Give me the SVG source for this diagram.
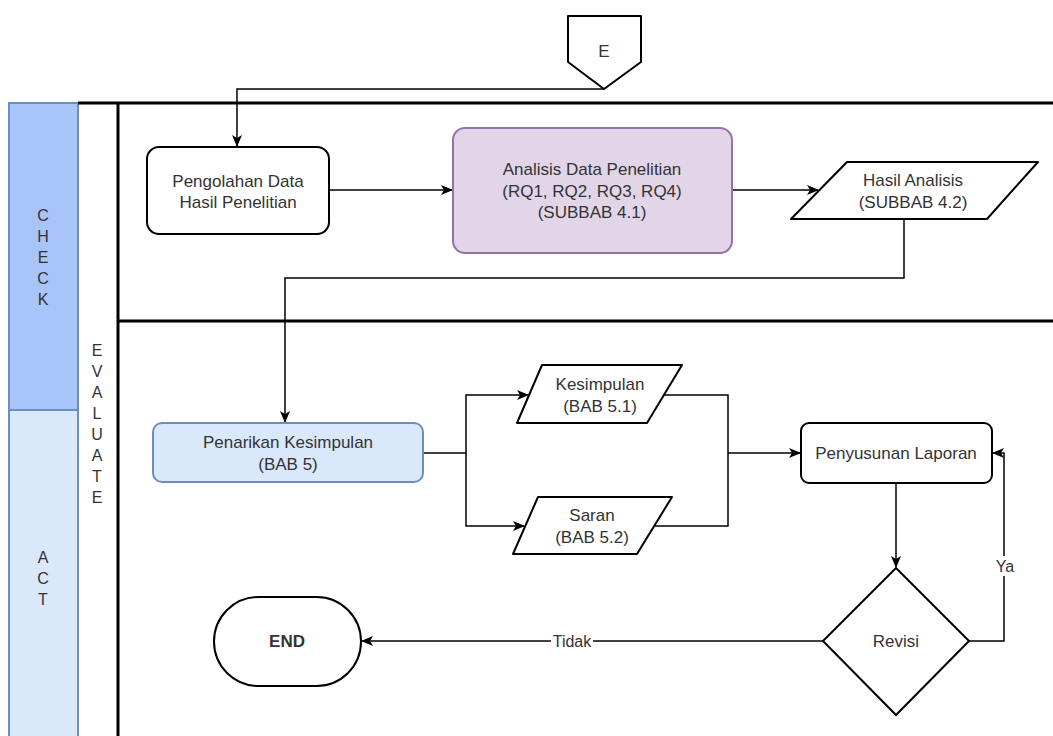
<svg xmlns="http://www.w3.org/2000/svg" width="1053" height="736" viewBox="0 0 1053 736">
  <defs>
    <marker id="arrow" viewBox="0 0 12 10" refX="11" refY="5" markerWidth="12" markerHeight="10" markerUnits="userSpaceOnUse" orient="auto">
      <path d="M0,0 L12,5 L0,10 L3,5 Z" fill="#000"/>
    </marker>
    <style>
      text { font-family: "Liberation Sans", Arial, sans-serif; fill: #333; text-anchor: middle; dominant-baseline: central; }
      .node { font-size: 17px; }
      .lane-txt { font-size: 16px; }
      .edge-txt { font-size: 16px; }
      .shape { fill: #fff; stroke: #000; stroke-width: 2; stroke-linejoin: round; }
      .conn { fill: none; stroke: #000; stroke-width: 1.5; }
      .lane-line { stroke: #000; stroke-width: 3; fill: none; }
    </style>
  </defs>
  <rect width="1053" height="736" fill="#fff"/>

  <!-- swimlanes -->
  <g id="lanes">
    <rect x="9" y="103" width="69" height="307" fill="#a9c4f8" stroke="#6c8ebf" stroke-width="2"/>
    <rect x="9" y="410" width="69" height="330" fill="#dae8fc" stroke="#6c8ebf" stroke-width="2"/>
    <path class="lane-line" d="M78,103 H1053 M118,103 V736 M118,321 H1053"/>
    <g class="lane-txt">
      <text x="43" y="215">C</text>
      <text x="43" y="236">H</text>
      <text x="43" y="257">E</text>
      <text x="43" y="278">C</text>
      <text x="43" y="299">K</text>
      <text x="43" y="557">A</text>
      <text x="43" y="578">C</text>
      <text x="43" y="599">T</text>
      <text x="97" y="350">E</text>
      <text x="97" y="371">V</text>
      <text x="97" y="392">A</text>
      <text x="97" y="413">L</text>
      <text x="97" y="434">U</text>
      <text x="97" y="455">A</text>
      <text x="97" y="476">T</text>
      <text x="97" y="497">E</text>
    </g>
  </g>

  <!-- connectors -->
  <g id="connectors">
    <path class="conn" d="M604,89 H237 V146" marker-end="url(#arrow)"/>
    <path class="conn" d="M329,190 H452" marker-end="url(#arrow)"/>
    <path class="conn" d="M732,190 H818" marker-end="url(#arrow)"/>
    <path class="conn" d="M904,219 V278 H285 V422" marker-end="url(#arrow)"/>
    <path class="conn" d="M423,453 H466 V395 H528" marker-end="url(#arrow)"/>
    <path class="conn" d="M466,453 V526 H524" marker-end="url(#arrow)"/>
    <path class="conn" d="M664,395 H728 V526 H654"/>
    <path class="conn" d="M728,453 H800" marker-end="url(#arrow)"/>
    <path class="conn" d="M896,483 V567" marker-end="url(#arrow)"/>
    <path class="conn" d="M969,641 H1004 V453 H993" marker-end="url(#arrow)"/>
    <path class="conn" d="M823,641 H362" marker-end="url(#arrow)"/>
    <rect x="996" y="556" width="18" height="20" fill="#fff"/>
    <text class="edge-txt" x="1005" y="566">Ya</text>
    <rect x="551" y="631" width="42" height="20" fill="#fff"/>
    <text class="edge-txt" x="572" y="641">Tidak</text>
  </g>

  <!-- off-page connector E -->
  <g id="node-e">
    <path class="shape" stroke-width="1.5" d="M568,16 H641 V62 L604,89 L568,62 Z"/>
    <text class="node" x="604" y="51">E</text>
  </g>

  <g id="node-pengolahan">
    <rect class="shape" x="147" y="147" width="182" height="87" rx="12"/>
    <text class="node" x="238" y="181">Pengolahan Data</text>
    <text class="node" x="238" y="202">Hasil Penelitian</text>
  </g>

  <g id="node-analisis">
    <rect x="453" y="128" width="279" height="125" rx="12" fill="#e1d5e7" stroke="#9673a6" stroke-width="2"/>
    <text class="node" x="592" y="169">Analisis Data Penelitian</text>
    <text class="node" x="592" y="191">(RQ1, RQ2, RQ3, RQ4)</text>
    <text class="node" x="592" y="212">(SUBBAB 4.1)</text>
  </g>

  <g id="node-hasil">
    <path class="shape" d="M847,162 H1038 L987,219 H791 Z"/>
    <text class="node" x="913" y="180">Hasil Analisis</text>
    <text class="node" x="913" y="202">(SUBBAB 4.2)</text>
  </g>

  <g id="node-penarikan">
    <rect x="153" y="423" width="270" height="59" rx="9" fill="#dae8fc" stroke="#6c8ebf" stroke-width="2"/>
    <text class="node" x="288" y="442">Penarikan Kesimpulan</text>
    <text class="node" x="288" y="464">(BAB 5)</text>
  </g>

  <g id="node-kesimpulan">
    <path class="shape" d="M542,365 H682 L647,423 H517 Z"/>
    <text class="node" x="600" y="384">Kesimpulan</text>
    <text class="node" x="600" y="406">(BAB 5.1)</text>
  </g>

  <g id="node-saran">
    <path class="shape" d="M538,497 H672 L637,554 H513 Z"/>
    <text class="node" x="592" y="515">Saran</text>
    <text class="node" x="592" y="537">(BAB 5.2)</text>
  </g>

  <g id="node-penyusunan">
    <rect class="shape" x="801" y="423" width="191" height="60" rx="8"/>
    <text class="node" x="896" y="453">Penyusunan Laporan</text>
  </g>

  <g id="node-revisi">
    <path class="shape" d="M896,568 L969,641 L896,715 L823,641 Z"/>
    <text class="node" x="896" y="641">Revisi</text>
  </g>

  <g id="node-end">
    <rect class="shape" x="214" y="597" width="147" height="89" rx="44.5"/>
    <text class="node" x="287" y="641" font-weight="bold">END</text>
  </g>
</svg>
